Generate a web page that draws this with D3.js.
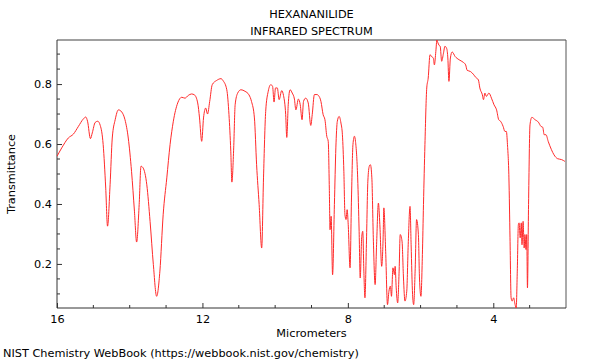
<!DOCTYPE html>
<html><head><meta charset="utf-8">
<script src="https://cdn.jsdelivr.net/npm/d3@7"></script>
<style>
html,body{margin:0;padding:0;background:#fff;}
text{font-family:"DejaVu Sans",sans-serif;font-size:11.3px;fill:#000;}
</style></head>
<body><svg id="c" width="600" height="360"></svg>
<script>
const titleLines = ["HEXANANILIDE", "INFRARED SPECTRUM"];
const xLabel = "Micrometers";
const yLabel = "Transmittance";
const footer = "NIST Chemistry WebBook (https://webbook.nist.gov/chemistry)";
const xMajorTicks = [16, 12, 8, 4];
const xMinorTicks = [15, 14, 13, 11, 10, 9, 7, 6, 5, 3];
const yMajorTicks = [0.2, 0.4, 0.6, 0.8];
const yMinorTicks = [0.1, 0.15, 0.25, 0.3, 0.35, 0.45, 0.5, 0.55, 0.65, 0.7, 0.75, 0.85, 0.9];

const micrometers = [
16.00,15.87,15.69,15.55,15.41,15.28,15.21,15.16,15.08,15.03,14.95,14.88,14.81,14.73,14.66,14.61,14.54,14.48,14.40,14.31,
14.22,14.13,14.04,13.95,13.87,13.81,13.74,13.69,13.63,13.53,13.44,13.35,13.26,13.17,13.08,12.98,12.89,12.80,12.68,12.57,
12.48,12.39,12.30,12.22,12.13,12.08,12.02,11.97,11.91,11.86,11.80,11.73,11.61,11.49,11.43,11.33,11.27,11.22,11.19,11.14,
11.10,11.03,10.94,10.83,10.72,10.65,10.57,10.51,10.44,10.37,10.32,10.26,10.19,10.12,10.07,10.03,9.99,9.94,9.89,9.82,
9.77,9.71,9.68,9.64,9.59,9.53,9.47,9.43,9.36,9.31,9.26,9.22,9.16,9.09,9.02,8.98,8.92,8.85,8.81,8.74,
8.68,8.63,8.58,8.54,8.51,8.49,8.46,8.42,8.37,8.33,8.29,8.24,8.19,8.15,8.11,8.08,8.05,8.02,7.99,7.94,
7.90,7.86,7.82,7.79,7.73,7.69,7.66,7.62,7.59,7.56,7.53,7.49,7.45,7.41,7.38,7.34,7.30,7.25,7.21,7.16,
7.12,7.07,7.03,7.01,6.96,6.91,6.87,6.83,6.80,6.76,6.72,6.70,6.67,6.63,6.59,6.56,6.51,6.47,6.43,6.38,
6.34,6.29,6.26,6.22,6.19,6.15,6.11,6.06,6.03,5.99,5.95,5.92,5.88,5.83,5.79,5.74,5.70,5.65,5.62,5.58,
5.55,5.53,5.49,5.46,5.42,5.37,5.33,5.28,5.25,5.22,5.18,5.13,5.05,4.94,4.83,4.76,4.72,4.63,4.55,4.48,
4.41,4.37,4.30,4.27,4.23,4.19,4.12,4.05,3.98,3.91,3.85,3.80,3.73,3.68,3.64,3.61,3.57,3.54,3.51,3.48,
3.44,3.40,3.37,3.34,3.31,3.29,3.26,3.23,3.21,3.18,3.15,3.13,3.10,3.08,3.06,3.03,2.99,2.94,2.85,2.76,
2.69,2.64,2.60,2.55,2.49,2.40,2.33,2.23,2.12,2.03];

const transmittance = [
0.559,0.587,0.620,0.633,0.659,0.683,0.690,0.676,0.618,0.637,0.672,0.676,0.662,0.598,0.453,0.326,0.464,0.620,0.681,0.714,
0.707,0.681,0.620,0.509,0.376,0.273,0.398,0.526,0.520,0.464,0.342,0.198,0.092,0.176,0.364,0.487,0.598,0.676,0.737,0.756,
0.753,0.762,0.767,0.764,0.737,0.687,0.609,0.687,0.720,0.700,0.742,0.798,0.812,0.818,0.811,0.781,0.698,0.576,0.473,0.587,
0.731,0.770,0.781,0.776,0.764,0.742,0.687,0.531,0.398,0.253,0.487,0.709,0.776,0.798,0.792,0.740,0.787,0.787,0.748,0.778,
0.762,0.698,0.622,0.731,0.781,0.770,0.750,0.714,0.750,0.731,0.681,0.742,0.753,0.737,0.662,0.698,0.765,0.765,0.762,0.742,
0.698,0.681,0.626,0.609,0.453,0.314,0.359,0.164,0.398,0.587,0.676,0.692,0.670,0.631,0.509,0.364,0.348,0.381,0.331,0.187,
0.420,0.598,0.626,0.609,0.487,0.309,0.153,0.287,0.309,0.176,0.087,0.264,0.476,0.526,0.531,0.487,0.287,0.131,0.264,0.403,
0.331,0.192,0.287,0.387,0.242,0.064,0.109,0.126,0.092,0.187,0.164,0.192,0.120,0.070,0.176,0.298,0.276,0.153,0.076,0.109,
0.264,0.392,0.264,0.098,0.064,0.176,0.348,0.298,0.153,0.092,0.231,0.398,0.598,0.787,0.820,0.898,0.892,0.887,0.864,0.909,
0.948,0.940,0.929,0.926,0.876,0.903,0.926,0.918,0.887,0.809,0.887,0.907,0.892,0.881,0.873,0.864,0.846,0.842,0.833,0.822,
0.814,0.787,0.764,0.748,0.770,0.759,0.770,0.753,0.731,0.714,0.681,0.676,0.659,0.642,0.642,0.598,0.487,0.287,0.087,0.076,
0.087,0.064,0.053,0.176,0.331,0.337,0.287,0.337,0.264,0.342,0.253,0.298,0.248,0.298,0.120,0.398,0.664,0.689,0.681,0.673,
0.659,0.656,0.631,0.631,0.609,0.581,0.564,0.551,0.548,0.542];

const data = micrometers.map((m, i) => ({x: m, y: transmittance[i]}));

const L = 57, R = 566, T = 40, B = 308;
const svg = d3.select("#c");
const x = d3.scaleLinear().domain([16, 2.0]).range([L, R]);
const y = d3.scaleLinear().domain([0.053, 0.947]).range([B, T]);

svg.append("defs").append("clipPath").attr("id", "clip")
  .append("rect").attr("x", L).attr("y", T).attr("width", R - L).attr("height", B - T);

// frame
svg.append("line").attr("x1", L).attr("x2", R).attr("y1", T).attr("y2", T)
  .attr("stroke", "#a0a0a0").attr("stroke-width", 2);
svg.append("line").attr("x1", R).attr("x2", R).attr("y1", T).attr("y2", B)
  .attr("stroke", "#555").attr("stroke-width", 1);

// axes with inward ticks
const xAxis = svg.append("g").attr("transform", `translate(0,${B})`)
  .call(d3.axisTop(x).tickValues(xMajorTicks).tickSize(5).tickFormat(d3.format("d")));
xAxis.selectAll("text").attr("y", 15).attr("dy", "0").style("font-size", "11.3px")
  .style("font-family", "DejaVu Sans");
xAxis.append("g").call(g => g.selectAll("line.minor").data(xMinorTicks).enter()
  .append("line").attr("x1", d => x(d)).attr("x2", d => x(d)).attr("y1", 0).attr("y2", -3)
  .attr("stroke", "#333"));

const yAxis = svg.append("g").attr("transform", `translate(${L},0)`)
  .call(d3.axisRight(y).tickValues(yMajorTicks).tickSize(5).tickFormat(d3.format(".1f")));
yAxis.selectAll("text").attr("x", -5).attr("text-anchor", "end").style("font-size", "11.3px")
  .style("font-family", "DejaVu Sans");
yAxis.append("g").call(g => g.selectAll("line.minor").data(yMinorTicks).enter()
  .append("line").attr("y1", d => y(d)).attr("y2", d => y(d)).attr("x1", 0).attr("x2", 3)
  .attr("stroke", "#333"));

[xAxis, yAxis].forEach(a => {
  a.select(".domain").attr("stroke", "#333");
  a.selectAll(".tick line").attr("stroke", "#333");
  a.selectAll(".tick text").attr("fill", "#000");
});
yAxis.select(".domain").attr("d", `M0,${T}V${B}`);
xAxis.select(".domain").attr("d", `M${L},0H${R}`);

// spectrum
svg.append("path").datum(data)
  .attr("clip-path", "url(#clip)")
  .attr("fill", "none").attr("stroke", "#ff2a2a").attr("stroke-width", 1)
  .attr("d", d3.line().x(d => x(d.x)).y(d => y(d.y)).curve(d3.curveMonotoneX));

// text
const cx = (L + R) / 2;
svg.append("text").attr("x", cx).attr("y", 17.5).attr("text-anchor", "middle").text(titleLines[0]);
svg.append("text").attr("x", cx).attr("y", 34.5).attr("text-anchor", "middle").text(titleLines[1]);
svg.append("text").attr("x", cx).attr("y", 336.5).attr("text-anchor", "middle").text(xLabel);
svg.append("text").attr("transform", `translate(15,${(T + B) / 2}) rotate(-90)`)
  .attr("text-anchor", "middle").text(yLabel);
svg.append("text").attr("x", 3).attr("y", 357).text(footer);
</script></body></html>
